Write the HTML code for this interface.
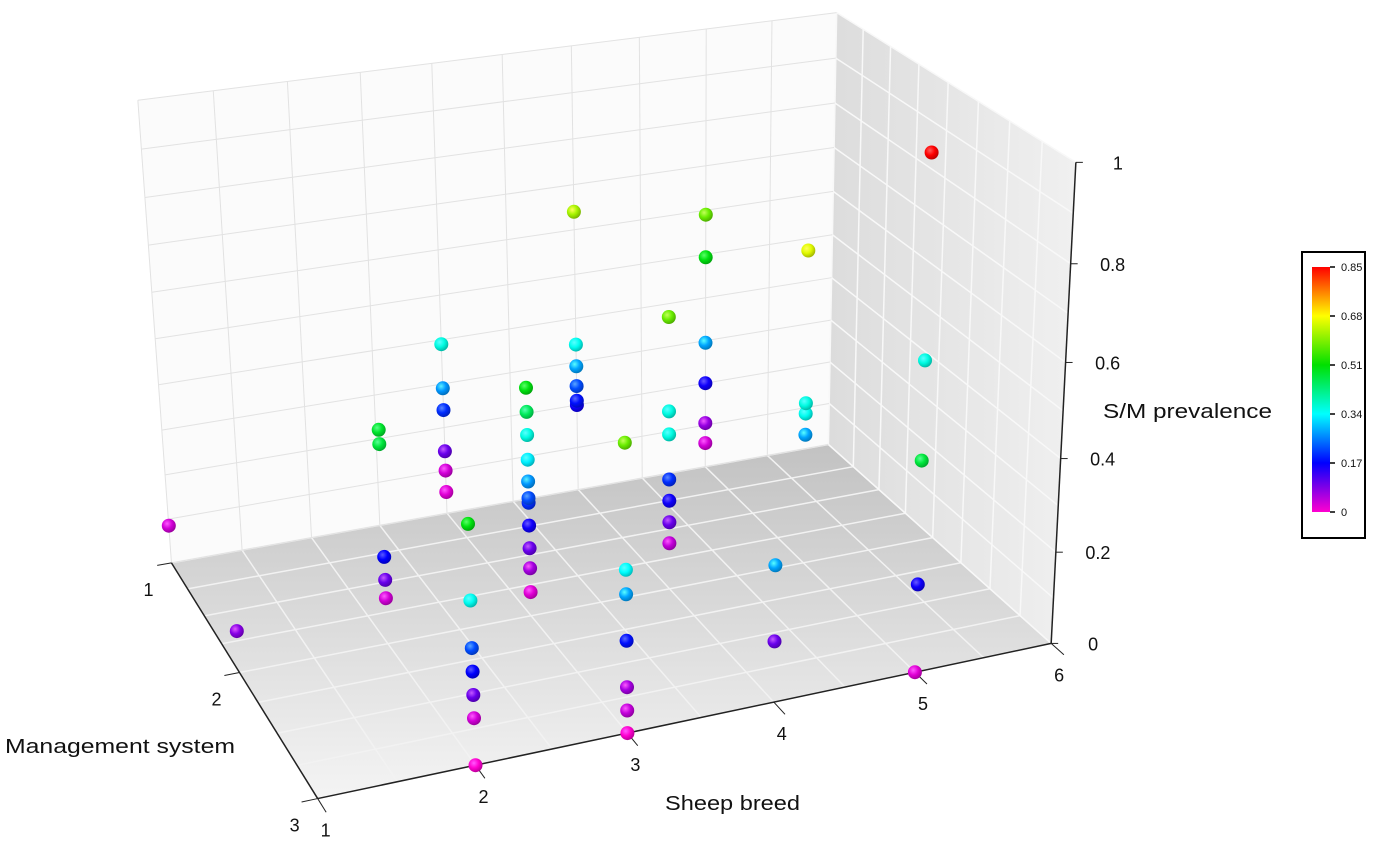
<!DOCTYPE html>
<html><head><meta charset="utf-8">
<style>
html,body{margin:0;padding:0;background:#fff;}
svg{display:block;font-family:"Liberation Sans",Arial,sans-serif;}
</style></head>
<body>
<svg id="chart" width="1400" height="858" viewBox="0 0 1400 858" xmlns="http://www.w3.org/2000/svg">
<defs>
<linearGradient id="floorGrad" x1="0" y1="0" x2="0" y2="1">
<stop offset="0" stop-color="#c2c2c2"/><stop offset="1" stop-color="#f4f4f4"/>
</linearGradient>
<linearGradient id="rwallGrad" x1="0" y1="0" x2="1" y2="0">
<stop offset="0" stop-color="#dcdcdc"/><stop offset="1" stop-color="#f0f0f0"/>
</linearGradient>
<linearGradient id="cbarGrad" x1="0" y1="1" x2="0" y2="0">
<stop offset="0" stop-color="#ff00d0"/><stop offset="0.2" stop-color="#0000ff"/>
<stop offset="0.4" stop-color="#00ffff"/><stop offset="0.6" stop-color="#00e000"/>
<stop offset="0.8" stop-color="#ffff00"/><stop offset="1" stop-color="#ff0000"/>
</linearGradient>
</defs>
<g id="walls"></g>
<g id="grid"></g>
<g id="axes"></g>
<g id="points"></g>
<text x="665" y="810" font-size="20" textLength="135" lengthAdjust="spacingAndGlyphs" fill="#111">Sheep breed</text>
<text x="5" y="753" font-size="20" textLength="230" lengthAdjust="spacingAndGlyphs" fill="#111">Management system</text>
<text x="1103" y="418" font-size="20" textLength="169" lengthAdjust="spacingAndGlyphs" fill="#111">S/M prevalence</text>
<g>
<rect x="1302" y="252" width="63" height="286" fill="#fff" stroke="#000" stroke-width="2"/>
<rect x="1312" y="267" width="18" height="245" fill="url(#cbarGrad)"/>
<g id="cbticks"></g>
</g>
</svg>
<script>
// ---- data ----
const breeds = [1,1, 2,2,2,2,2, 3,3,3,3,3,3, 2,2,2,2,2,2,2, 3,3,3,3,3,3,3,3,3,3,3, 4,4,4,4,4,4, 3,3,3,3,3,3,3, 4,4,4,4,4,4,4, 5,5,5,5,5,5, 4,4, 5,5,5,5, 5,5,5,5,5];
const mgmts  = [1,2, 2,2,2,2,2, 1,1,1,1,1,1, 3,3,3,3,3,3,3, 2,2,2,2,2,2,2,2,2,2,2, 1,1,1,1,1,1, 3,3,3,3,3,3,3, 2,2,2,2,2,2,2, 1,1,1,1,1,1, 3,3, 2,2,2,2, 3,3,3,3,3];
const prevalence = [0.085,0.09, 0.10,0.14,0.19,0.43,0.46, 0.05,0.10,0.145,0.24,0.29,0.39,
  0,0.098,0.146,0.194,0.242,0.338,0.49,
  0.053,0.106,0.15,0.2,0.25,0.26,0.296,0.343,0.396,0.445,0.496,
  0.2,0.21,0.244,0.29,0.34,0.64,
  0,0.048,0.097,0.194,0.29,0.34,0.594,
  0.103,0.15,0.198,0.245,0.344,0.394,0.596,
  0.057,0.105,0.2,0.295,0.493,0.59,
  0.13,0.29,
  0.29,0.337,0.36,0.69,
  0,0.19,0.45,0.654,1.06];
const colorVals = [0.03,0.08, 0.03,0.1,0.17,0.47,0.48, 0.02,0.03,0.1,0.2,0.27,0.36,
  0,0.03,0.1,0.17,0.22,0.35,0.5,
  0.02,0.06,0.1,0.16,0.2,0.22,0.27,0.33,0.36,0.45,0.5,
  0.16,0.18,0.22,0.28,0.35,0.62,
  0,0.04,0.06,0.18,0.28,0.34,0.58,
  0.04,0.1,0.16,0.2,0.36,0.36,0.58,
  0.03,0.07,0.16,0.28,0.5,0.58,
  0.1,0.28,
  0.28,0.35,0.36,0.66,
  0.02,0.16,0.47,0.36,0.85];
const breedTicks = [1,2,3,4,5,6];
const mgmtTicks = [1,2,3];
const zTicks = [0,0.2,0.4,0.6,0.8,1];
const zTickLabels = ["0","0.2","0.4","0.6","0.8","1"];
const cbTickLabels = ["0","0.17","0.34","0.51","0.68","0.85"];

// ---- projection (DLT fit to box corners) ----
const corr = [[1,1,0,168,558],[6,1,0,835,447],[1,3,0,320,800],[6,3,0,1046,643],[2,3,0,476,767],[3,3,0,628,735],[5,3,0,913,670],[1,1,1,139,102],[6,1,1,832,13],[6,3,1,1080,160]];
function solveDLT(){
  const A=[],b=[];
  corr.forEach(([X,Y,Z,u,v])=>{
    A.push([X,Y,Z,1,0,0,0,0,-u*X,-u*Y,-u*Z]);b.push(u);
    A.push([0,0,0,0,X,Y,Z,1,-v*X,-v*Y,-v*Z]);b.push(v);
  });
  const n=11,M=[];
  for(let i=0;i<n;i++){M.push([]);for(let j=0;j<n;j++){let s=0;for(let k=0;k<A.length;k++)s+=A[k][i]*A[k][j];M[i].push(s);}let s=0;for(let k=0;k<A.length;k++)s+=A[k][i]*b[k];M[i].push(s);}
  for(let i=0;i<n;i++){let p=i;for(let r=i+1;r<n;r++)if(Math.abs(M[r][i])>Math.abs(M[p][i]))p=r;[M[i],M[p]]=[M[p],M[i]];
    for(let r=0;r<n;r++){if(r===i)continue;const f=M[r][i]/M[i][i];for(let c=i;c<=n;c++)M[r][c]-=f*M[i][c];}}
  return M.map((r,i)=>r[n]/r[i]);
}
const P=solveDLT();
function proj(X,Y,Z){const w=P[8]*X+P[9]*Y+P[10]*Z+1;return [(P[0]*X+P[1]*Y+P[2]*Z+P[3])/w,(P[4]*X+P[5]*Y+P[6]*Z+P[7])/w];}
const NS="http://www.w3.org/2000/svg";
function mk(tag,attrs,parent){const e=document.createElementNS(NS,tag);for(const k in attrs)e.setAttribute(k,attrs[k]);parent.appendChild(e);return e;}
function poly(pts){return pts.map(p=>{const q=proj(...p);return q[0].toFixed(1)+","+q[1].toFixed(1);}).join(" ");}
const walls=document.getElementById('walls'),grid=document.getElementById('grid'),axes=document.getElementById('axes'),pts=document.getElementById('points');
let e;
e=mk('polygon',{points:poly([[1,1,0],[6,1,0],[6,1,1],[1,1,1]]),fill:'#fbfbfb'},walls);


e=mk('polygon',{points:poly([[6,1,0],[6,3,0],[6,3,1],[6,1,1]]),fill:'url(#rwallGrad)'},walls);


e=mk('polygon',{points:poly([[1,1,0],[6,1,0],[6,3,0],[1,3,0]]),fill:'url(#floorGrad)'},walls);


function line(a,b,stroke,w,parent,name){const p=proj(...a),q=proj(...b);const l=mk('line',{x1:p[0],y1:p[1],x2:q[0],y2:q[1],stroke:stroke,'stroke-width':w},parent);return l;}
for(let x=1;x<=6.001;x+=0.5){line([x,1,0],[x,3,0],'#f2f2f2',1.5,grid,'floor-grid-line');line([x,1,0],[x,1,1],'#e2e2e2',1,grid,'back-grid-line');}
for(let y=1;y<=3.001;y+=0.25){line([1,y,0],[6,y,0],'#f2f2f2',1.5,grid,'floor-grid-line');line([6,y,0],[6,y,1],'#f8f8f8',1.5,grid,'side-grid-line');}
for(let z=0;z<=1.001;z+=0.1){line([1,1,z],[6,1,z],'#e2e2e2',1,grid,'back-grid-line');line([6,1,z],[6,3,z],'#f8f8f8',1.5,grid,'side-grid-line');}
line([1,3,0],[6,3,0],'#222',1.5,axes,'x-axis-line');
line([1,1,0],[1,3,0],'#222',1.5,axes,'y-axis-line');
line([6,3,0],[6,3,1],'#222',1.5,axes,'z-axis-line');
breedTicks.forEach(t=>{const p=proj(t,3,0);line([t,3,0],[t,3.1,0],'#222',1,axes,'x-tick');const tx=mk('text',{x:p[0]+8,y:p[1]+38,'font-size':18,fill:'#111','text-anchor':'middle'},axes);tx.textContent=t;});
mgmtTicks.forEach(t=>{const p=proj(1,t,0);line([1,t,0],[0.9,t,0],'#222',1,axes,'y-tick');const tx=mk('text',{x:p[0]-23,y:p[1]+33,'font-size':18,fill:'#111','text-anchor':'middle'},axes);tx.textContent=t;});
zTicks.forEach((t,i)=>{const p=proj(6,3,t);const l=mk('line',{x1:p[0],y1:p[1],x2:p[0]+7,y2:p[1],stroke:'#222','stroke-width':1},axes);const tx=mk('text',{x:p[0]+42,y:p[1]+7,'font-size':18,fill:'#111','text-anchor':'middle'},axes);tx.textContent=zTickLabels[i];});
// colorbar ticks
const cb=document.getElementById('cbticks');
cbTickLabels.forEach((lab,i)=>{const y=512-i*(245/5);const l=mk('line',{x1:1330,y1:y,x2:1335,y2:y,stroke:'#000','stroke-width':1.5},cb);const tx=mk('text',{x:1341,y:y+4,'font-size':11,fill:'#111'},cb);tx.textContent=lab;});
// color map
const stops=[[0,[255,0,208]],[0.2,[0,0,255]],[0.4,[0,255,255]],[0.6,[0,224,0]],[0.8,[255,255,0]],[1,[255,0,0]]];
function cmap(v){let t=Math.max(0,Math.min(1,v/0.85));for(let i=1;i<stops.length;i++){if(t<=stops[i][0]){const a=stops[i-1],b=stops[i];const f=(t-a[0])/(b[0]-a[0]);return a[1].map((c,k)=>Math.round(c+(b[1][k]-c)*f));}}return stops[5][1];}
const defs=document.querySelector('defs');
const order=breeds.map((b,i)=>i).sort((i,j)=>(mgmts[i]-mgmts[j])||(breeds[i]-breeds[j]));
order.forEach(i=>{
  const p=proj(breeds[i],mgmts[i],prevalence[i]);
  const c=cmap(colorVals[i]);
  const g=mk('radialGradient',{id:'pg'+i,cx:'0.38',cy:'0.35',r:'0.7'},defs);
  mk('stop',{offset:'0','stop-color':`rgb(${Math.min(255,c[0]+90)},${Math.min(255,c[1]+90)},${Math.min(255,c[2]+90)})`},g);
  mk('stop',{offset:'0.5','stop-color':`rgb(${c[0]},${c[1]},${c[2]})`},g);
  mk('stop',{offset:'1','stop-color':`rgb(${Math.round(c[0]*0.7)},${Math.round(c[1]*0.7)},${Math.round(c[2]*0.7)})`},g);
  const dot=mk('circle',{cx:p[0].toFixed(1),cy:p[1].toFixed(1),r:7,fill:'url(#pg'+i+')'},pts);
  
  
});
</script>
</body></html>
